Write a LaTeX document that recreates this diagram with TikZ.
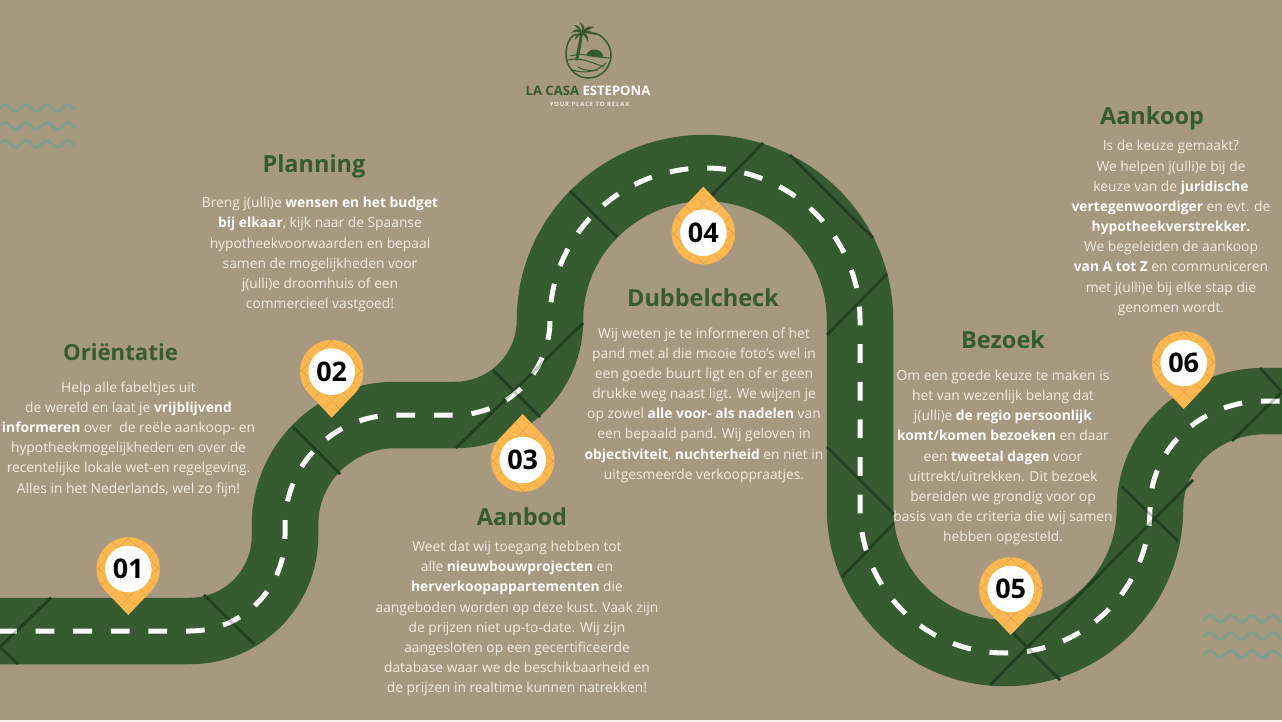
\documentclass[tikz,border=0pt]{standalone}
\usepackage{fontspec}
\setmainfont{Open Sans}
\definecolor{bgc}{HTML}{A79880}
\definecolor{roadc}{HTML}{365B30}
\definecolor{seamc}{HTML}{1F3A1E}
\definecolor{seamd}{HTML}{2C4A28}
\definecolor{pinc}{HTML}{FFB84F}
\definecolor{pinh}{HTML}{DBA24C}
\definecolor{bodyc}{HTML}{F3EEE4}
\definecolor{wavec}{HTML}{7FA08E}
\newcommand\bodyfont{\fontsize{13.8}{20.17}\selectfont}
\newcommand\bw[1]{\textbf{\textcolor{white}{#1}}}
\newcommand\roadpath{(-2,631) -- (190,631) .. controls (242.5,631) and (285,588.5) .. (285,536)
 -- (285,525) .. controls (285,464.2) and (334.2,415) .. (395,415)
 -- (455,415) .. controls (507.5,415) and (550,372.5) .. (550,320)
 .. controls (550,236.1) and (619.4,168) .. (705,168)
 .. controls (790.6,168) and (860,236.1) .. (860,320)
 -- (860,508) .. controls (860,588.1) and (924.9,653) .. (1005,653)
 .. controls (1085.1,653) and (1150,588.1) .. (1150,508)
 .. controls (1150,448.9) and (1201.5,401) .. (1265,401) -- (1290,401)}
\newcommand\seams{
 (51,597.7) -- (0,647) -- (18,664)
 (204,595) -- (254,644)
 (293,427) -- (340,474)
 (583,323) -- (456,448)
 (493,370) -- (540,417)
 (570,191) -- (617,237)
 (763,143) -- (712,195)
 (790,155) -- (873,238)
 (887,274) -- (827,335)
 (827,447) -- (894,514)
 (894,523) -- (842,577)
 (1122,487) -- (1178,541)
 (1193,480) -- (990,685)
 (1013,633) -- (1060,680)
 (1260,368) -- (1282,392) -- (1232,441)}
\newcommand\pinpath{(0,46) -- (22.9,21.9) .. controls (28.5,16) and (31.7,8.14) .. (31.7,0)
 .. controls (31.7,-17.5) and (17.5,-31.7) .. (0,-31.7)
 .. controls (-17.5,-31.7) and (-31.7,-17.5) .. (-31.7,0)
 .. controls (-31.7,8.14) and (-28.5,16) .. (-22.9,21.9) -- cycle}
\newcommand\pin[5]{%
 \begin{scope}[shift={(#2,#3)},yscale=#4]
  \fill[pinc] \pinpath;
  \begin{scope}
   \clip \pinpath;
   \foreach \k in {-100,-80,...,100}{
    \draw[pinh,line width=.6pt] (\k-60,9-60) -- (\k+60,9+60);
    \draw[pinh,line width=.6pt] (\k+60,9-60) -- (\k-60,9+60);
   }
  \end{scope}
 \end{scope}
 \node[pinface] (#1) at (#2,#3) {#5};}
\begin{document}
\begin{tikzpicture}[x=1pt,y=-1pt,
 pinface/.style={circle,fill=white,minimum size=46.6pt,inner sep=0pt,text=black,font=\fontsize{27}{28}\selectfont\bfseries},
 heading/.style={text=roadc,font=\fontsize{23.5}{26}\selectfont\bfseries,inner sep=0pt},
 bodytext/.style={text=bodyc,font=\bodyfont,align=center,inner sep=0pt},
 wave/.style={wavec,line width=2.6pt,line cap=round},
 logoline/.style={roadc,line width=1.5pt,line cap=round},
 leaf/.style={fill=roadc,draw=none}]
\useasboundingbox (0,0) rectangle (1282,722);
\clip (0,0) rectangle (1282,722);
\fill[bgc] (0,0) rectangle (1282,722);
\fill[white!88!bgc] (0,720.3) rectangle (1282,722);
% waves
\foreach \yy in {108,126,144}{
 \draw[wave] plot[domain=0:75,samples=90] (\x,{\yy-3.3*cos(17.143*(\x-5))});
}
\foreach \yy in {619,636,654}{
 \draw[wave] plot[domain=0:78,samples=90] (1204+\x,{\yy-3.3*cos(17.143*(\x-6))});
}
% road
\draw[roadc,line width=66.5pt] \roadpath;
\draw[seamc,line width=2.6pt] \seams;
\draw[seamd,line width=.7pt] \seams;
\draw[white,line width=5pt,dash pattern=on 18.8pt off 18.8pt] \roadpath;
\draw[seamc,line width=2.6pt,opacity=.3] \seams;
% pins
\pin{pin1}{128.3}{569}{1}{01}
\pin{pin2}{331.7}{371.7}{1}{02}
\pin{pin3}{522.7}{460}{-1}{03}
\pin{pin4}{703.3}{232.7}{-1}{04}
\pin{pin5}{1010.7}{589}{1}{05}
\pin{pin6}{1183.7}{363}{1}{06}
% headings and text
\node[heading,font=\fontsize{22.2}{26}\selectfont\bfseries] (h1) at (120.5,352) {Oriëntatie};
\node[bodytext] (t1) at (128.5,439) {Help alle fabeltjes uit\\de wereld en laat je \bw{vrijblijvend}\\\bw{informeren} over\ \ de reële aankoop- en\\hypotheekmogelijkheden en over de\\recentelijke lokale wet-en regelgeving.\\Alles in het Nederlands, wel zo fijn!};
\node[heading] (h2) at (314,166) {Planning};
\node[bodytext] (t2) at (320,254.5) {Breng j(ulli)e \bw{wensen en het budget}\\\bw{bij elkaar}, kijk naar de Spaanse\\hypotheekvoorwaarden en bepaal\\samen de mogelijkheden voor\\j(ulli)e droomhuis of een\\commercieel vastgoed!};
\node[heading] (h3) at (522,517) {Aanbod};
\node[bodytext] (t3) at (517,618.5) {Weet dat wij toegang hebben tot\\alle \bw{nieuwbouwprojecten} en\\\bw{herverkoopappartementen} die\\aangeboden worden op deze kust. Vaak zijn\\de prijzen niet up-to-date. Wij zijn\\aangesloten op een gecertificeerde\\database waar we de beschikbaarheid en\\de prijzen in realtime kunnen natrekken!};
\node[heading] (h4) at (703,298) {Dubbelcheck};
\node[bodytext] (t4) at (704,405) {Wij weten je te informeren of het\\pand met al die mooie foto's wel in\\een goede buurt ligt en of er geen\\drukke weg naast ligt. We wijzen je\\op zowel \bw{alle voor- als nadelen} van\\een bepaald pand. Wij geloven in\\\bw{objectiviteit}, \bw{nuchterheid} en niet in\\uitgesmeerde verkooppraatjes.};
\node[heading] (h5) at (1003,340) {Bezoek};
\node[bodytext] (t5) at (1003,457.5) {Om een goede keuze te maken is\\het van wezenlijk belang dat\\j(ulli)e \bw{de regio persoonlijk}\\\bw{komt/komen bezoeken} en daar\\een \bw{tweetal dagen} voor\\uittrekt/uitrekken. Dit bezoek\\bereiden we grondig voor op\\basis van de criteria die wij samen\\hebben opgesteld.};
\node[heading] (h6) at (1152,118) {Aankoop};
\node[bodytext] (t6) at (1171,228) {Is de keuze gemaakt?\\We helpen j(ulli)e bij de\\keuze van de \bw{juridische}\\\bw{vertegenwoordiger} en evt. de\\\bw{hypotheekverstrekker.}\\We begeleiden de aankoop\\\bw{van A tot Z} en communiceren\\met j(ulli)e bij elke stap die\\genomen wordt.};
% logo
\draw[logoline] (579,34.5) .. controls (573,33) and (567,40) .. (566,52)
  .. controls (565,66) and (575,78) .. (588,78) .. controls (602,78) and (611,67) .. (611,55)
  .. controls (611,45) and (603,35) .. (594,33);
\begin{scope}
 \clip (588,55) circle[radius=22pt];
 \fill[roadc] (603.5,58) .. controls (603,47) and (587,47) .. (586.5,56) -- cycle;
 \draw[roadc,line width=1pt] (562,62) .. controls (578,55) and (590,62) .. (604,67);
 \draw[roadc,line width=1pt] (570,56) .. controls (585,52) and (598,58) .. (612,58);
 \draw[roadc,line width=1pt] (568,68) .. controls (580,74) and (595,74) .. (606,63);
 \draw[roadc,line width=1pt] (578,67) .. controls (585,71) and (592,71) .. (598,70);
\end{scope}
\fill[roadc] (575,60) .. controls (577,50) and (579,42) .. (580.5,32) -- (583,32) .. controls (582,42) and (580,52) .. (578,60.5) -- cycle;
\path[leaf] (582,32) .. controls (578,28) and (574,29) .. (571,33) .. controls (575,31.5) and (579,32) .. (582,33) -- cycle;
\path[leaf] (582,32) .. controls (580,27) and (578,25) .. (574,25) .. controls (577,27) and (579,30) .. (581,33) -- cycle;
\path[leaf] (582,32) .. controls (582,28) and (582,25) .. (579,22.5) .. controls (584,24) and (586,28) .. (583,33) -- cycle;
\path[leaf] (582,32) .. controls (586,26) and (590,26) .. (594,27) .. controls (590,29) and (587,31) .. (583,33) -- cycle;
\path[leaf] (582,32) .. controls (588,30) and (593,31) .. (596,35) .. controls (591,34) and (587,33) .. (582,33) -- cycle;
\path[leaf] (582,32) .. controls (587,33) and (589,37) .. (588,42) .. controls (586,38) and (584,35) .. (581,33) -- cycle;
\path[leaf] (582,32) .. controls (578,33) and (575,36) .. (575,40) .. controls (577,37) and (580,35) .. (583,33) -- cycle;
\node[inner sep=0pt,font=\fontsize{13.1}{14}\selectfont\bfseries] (logoname) at (588,90.5) {\textcolor{roadc}{LA CASA} \textcolor{white}{ESTEPONA}};
\node[inner sep=0pt,text=bodyc,font=\fontsize{6}{7}\selectfont\bfseries\addfontfeatures{LetterSpace=14}] (logotag) at (589.5,104.5) {YOUR PLACE TO RELAX};
\end{tikzpicture}
\end{document}
